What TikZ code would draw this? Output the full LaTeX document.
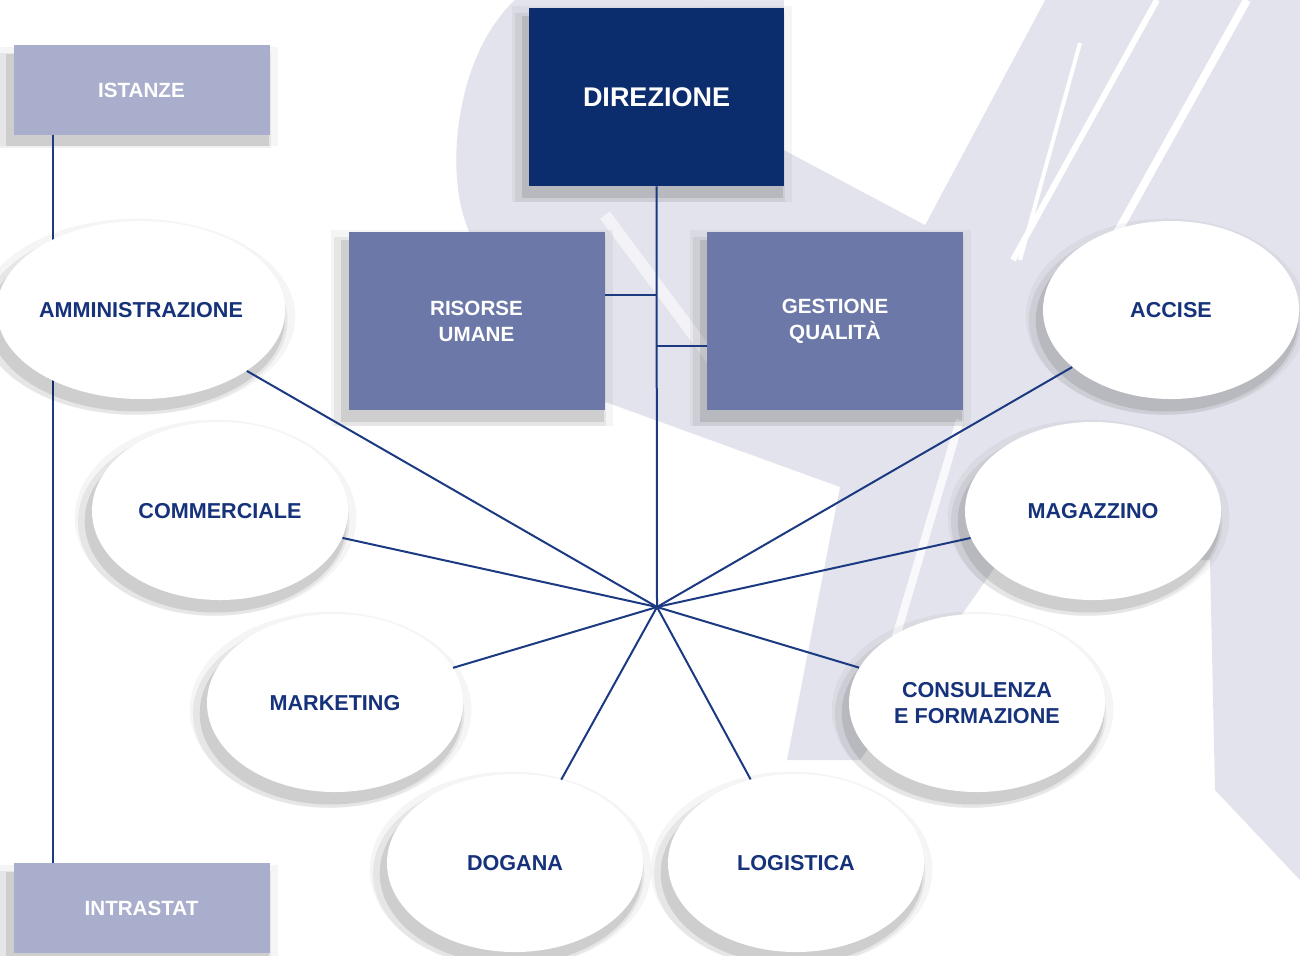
\documentclass[tikz,border=0pt]{standalone}
\usepackage{fontspec}
\setmainfont{Liberation Sans}
\usepackage{xcolor}
\usetikzlibrary{shapes.geometric,shadows}

\definecolor{navy}{HTML}{0B2D6D}
\definecolor{slate}{HTML}{6C79A8}
\definecolor{lilac}{HTML}{A9AECC}
\definecolor{haze}{HTML}{E3E3ED}
\definecolor{ink}{HTML}{15327A}
\definecolor{linkblue}{HTML}{1B3A82}

\tikzset{
  shade/.style={
    general shadow={shadow xshift=-2pt, shadow yshift=-3pt, shadow scale=1.1, fill=black, opacity=.04},
    general shadow={shadow xshift=-3pt, shadow yshift=-5pt, shadow scale=1.06, fill=black, opacity=.06},
    general shadow={shadow xshift=-2pt, shadow yshift=-5pt, shadow scale=1.025, fill=black, opacity=.1}},
  office/.style={ellipse, fill=white, shade, minimum width=128pt, minimum height=89pt, inner sep=0pt,
    align=center, text=ink, font=\fontsize{10.8}{13}\selectfont\bfseries},
  unit/.style={rectangle, fill=slate, shade, minimum width=128pt, minimum height=89pt, inner sep=0pt,
    align=center, text=white, font=\fontsize{10.3}{13}\selectfont\bfseries},
  tab/.style={unit, fill=lilac, minimum height=45pt},
  link/.style={draw=linkblue, line width=1pt}
}

\begin{document}
\begin{tikzpicture}[x=0.5pt, y=-0.5pt]
\useasboundingbox (0,0) rectangle (1300,955);
\fill[white] (0,0) rectangle (1300,955);

% Background swoosh
\fill[haze] (515,0) .. controls (450,60) and (440,200) .. (480,250) -- (600,400) -- (840,487)
  -- (787,760) -- (860,760) -- (1000,560) -- (1210,560) -- (1215,790) -- (1300,880) -- (1300,0) -- cycle;
\fill[white] (700,0) -- (1045,0) -- (925,225) -- (784,150) -- (784,0) -- cycle;
\draw[white, line width=3pt] (1157,0) -- (1013,260);
\draw[white, line width=2pt] (1080,43) -- (1020,260);
\draw[white, line width=4pt] (1247,0) -- (1113,240);
\draw[white, opacity=.6, line width=6pt] (605,215) -- (720,370);
\draw[white, opacity=.8, line width=4pt] (960,420) -- (895,640);

% Left column
\node[tab] (istanze) at (141.5,90) {ISTANZE};
\node[tab] (intrastat) at (141.5,908) {INTRASTAT};
\coordinate (rail) at (53,0);
\draw[link] (rail |- istanze.south) -- (rail |- intrastat.north);

% Top
\node[unit, fill=navy, minimum width=127.5pt, font=\fontsize{13.5}{15}\selectfont\bfseries] (direz) at (656.5,97) {DIREZIONE};
\node[unit] (risorse) at (476.5,321) {RISORSE\\UMANE};
\node[unit] (gestione) at (835,321) {GESTIONE\\QUALITÀ};

% Offices
\node[office] (amm) at (141,310) {AMMINISTRAZIONE};
\node[office] (comm) at (220,511) {COMMERCIALE};
\node[office] (mark) at (335,703) {MARKETING};
\node[office] (dog) at (515,863) {DOGANA};
\node[office] (logi) at (796,863) {LOGISTICA};
\node[office] (cons) at (977,703) {CONSULENZA\\E FORMAZIONE};
\node[office] (maga) at (1093,511) {MAGAZZINO};
\node[office] (acc) at (1171,310) {ACCISE};

\coordinate (hub) at (657,607);
\coordinate (spineA) at (direz.south |- 0,295);
\coordinate (spineB) at (direz.south |- 0,346);

% Connectors
\draw[link] (direz.south) -- (hub);
\draw[link] (risorse.east |- spineA) -- (spineA);
\draw[link] (spineB) -- (gestione.west |- spineB);
\foreach \o in {amm,comm,mark,dog,logi,cons,maga,acc}
  \draw[link] (hub) -- (\o);

\end{tikzpicture}
\end{document}
